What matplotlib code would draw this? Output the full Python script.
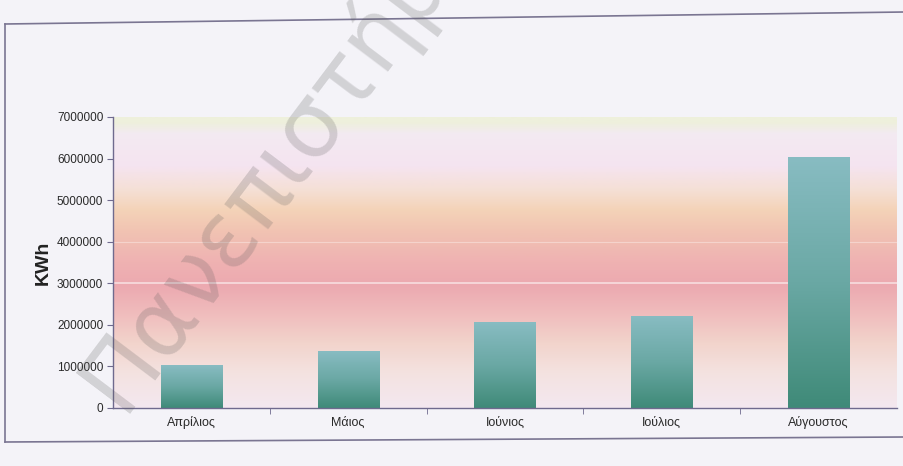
import numpy as np
import matplotlib.pyplot as plt
from matplotlib.colors import LinearSegmentedColormap
from matplotlib.lines import Line2D

months = ['Απρίλιος', 'Μάιος', 'Ιούνιος', 'Ιούλιος', 'Αύγουστος']
kwh = [1030000, 1350000, 2060000, 2210000, 6020000]
y_ticks = [0, 1000000, 2000000, 3000000, 4000000, 5000000, 6000000, 7000000]

label_font = ['Liberation Sans', 'DejaVu Sans']

fig = plt.figure(figsize=(9.04, 4.66), dpi=100, facecolor='#f4f3f8')
ax = fig.add_axes([0.125, 0.1245, 0.867, 0.6245])

# sunset style band fill behind the bars (bottom -> top)
bg = LinearSegmentedColormap.from_list('bg', [
    (0.00, '#f3e8f0'), (0.12, '#f4e2e0'), (0.22, '#f2d4cc'),
    (0.32, '#f0bdbd'), (0.42, '#eca9b0'), (0.50, '#efb2b2'),
    (0.60, '#f1c2b2'), (0.68, '#f4d3b8'), (0.75, '#f5e0d6'),
    (0.83, '#f5e4f0'), (0.94, '#f3eaf2'), (0.98, '#eef0dc'),
    (1.00, '#eef0dc')])
grad = np.linspace(0, 1, 256).reshape(-1, 1)
ax.imshow(grad, cmap=bg, origin='lower', aspect='auto',
          extent=[-0.5, len(months) - 0.5, 0, 7000000], zorder=0)
ax.axhline(3000000, color='white', lw=1.2, alpha=0.6, zorder=1)
ax.axhline(4000000, color='white', lw=0.8, alpha=0.35, zorder=1)

# bars with a teal gradient, lighter at the top
teal = LinearSegmentedColormap.from_list('teal', ['#3f8a78', '#6aa8a4', '#88bcc2'])
width = 0.39
bars = ax.bar(range(len(months)), kwh, width=width, color='none', zorder=2)
for b in bars:
    x0, y0 = b.get_x(), b.get_y()
    ax.imshow(grad, cmap=teal, origin='lower', aspect='auto',
              extent=[x0, x0 + b.get_width(), y0, y0 + b.get_height()],
              zorder=2)
ax.set_xlim(-0.5, len(months) - 0.5)
ax.set_ylim(0, 7000000)

for s in ['top', 'right']:
    ax.spines[s].set_visible(False)
for s in ['left', 'bottom']:
    ax.spines[s].set_color('#6f6a8e')
    ax.spines[s].set_linewidth(1.0)

ax.set_yticks(y_ticks)
ax.set_yticklabels([str(v) for v in y_ticks], family=label_font,
                   fontsize=8.5, color='#2a2a2a')
ax.set_xticks(range(len(months)))
ax.set_xticklabels(months, family=label_font, fontsize=9, color='#2a2a2a')
ax.tick_params(axis='x', length=0, pad=6)
ax.tick_params(axis='y', length=4, color='#6f6a8e', pad=3)
ax.set_xticks(np.arange(0.5, len(months) - 0.5, 1.0), minor=True)
ax.tick_params(axis='x', which='minor', length=4, color='#6f6a8e',
               direction='out')
ax.set_ylabel('KWh', family=label_font, fontsize=14, fontweight='bold',
              color='#222222')
ax.yaxis.set_label_coords(-0.078, 0.5)

# chart frame
frame = '#7a7592'
fig.add_artist(Line2D([5/904, 1.0], [1 - 24/466, 1 - 12/466],
                      color=frame, lw=1.2))
fig.add_artist(Line2D([5/904, 5/904], [1 - 24/466, 1 - 442/466],
                      color=frame, lw=1.2))
fig.add_artist(Line2D([5/904, 1.0], [1 - 442/466, 1 - 437/466],
                      color=frame, lw=1.2))

fig.text(122/904, 1 - 414/466, 'Πανεπιστήμιο', rotation=53,
         rotation_mode='anchor', ha='left', va='baseline', fontsize=66,
         color='#5a5a5a', alpha=0.22, zorder=10)

fig.savefig('out.png', dpi=100, facecolor=fig.get_facecolor())
